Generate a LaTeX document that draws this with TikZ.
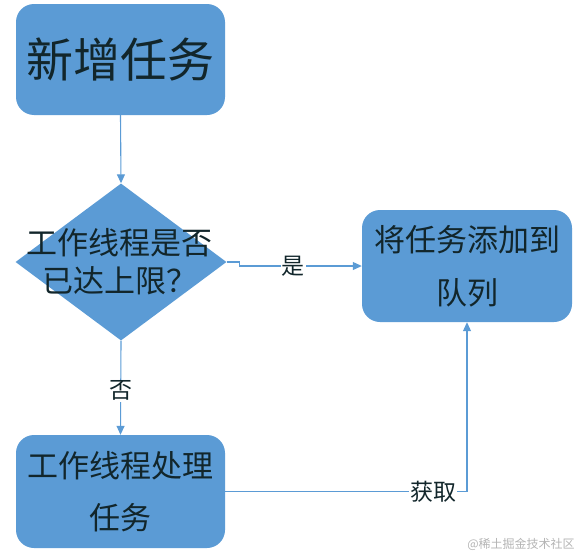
\documentclass[tikz,border=0pt]{standalone}
\usepackage{fontspec}
\newfontfamily\cjk{Noto Sans CJK SC}
\usetikzlibrary{arrows.meta,shapes.geometric}
\definecolor{boxblue}{HTML}{5B9BD5}
\definecolor{linkblue}{HTML}{5B9BD5}
\definecolor{ink}{HTML}{12262B}
\definecolor{markgray}{HTML}{B4B4B4}
\tikzset{
  step box/.style={draw=none,fill=boxblue,rounded corners=18pt,text=ink,
    align=center,inner sep=0pt},
  decision/.style={diamond,draw=none,fill=boxblue,inner sep=0pt,
    minimum width=211pt,minimum height=157pt},
  link/.style={draw=linkblue,line width=1.1pt,
    -{Triangle[length=9pt,width=8pt]}},
  lbl/.style={fill=white,text=ink,inner sep=1pt,font=\cjk\fontsize{23}{23}\selectfont}
}

\begin{document}
\begin{tikzpicture}[x=1pt,y=-1pt,font=\cjk]
  \useasboundingbox (0,0) rectangle (579,557);

  \node[step box,minimum width=209pt,minimum height=111pt,
    font=\cjk\fontsize{47}{47}\selectfont] (add) at (120.5,59.5) {新增任务};

  \node[decision] (check) at (121,262) {};
  \node[text=ink,align=center,font=\cjk\fontsize{31}{38}\selectfont] (checktxt)
    at (120,262) {工作线程是否\\已达上限？};

  \node[step box,minimum width=210pt,minimum height=112pt,
    font=\cjk\fontsize{31}{53}\selectfont] (queue) at (467,266)
    {将任务添加到\\队列};

  \node[step box,minimum width=209pt,minimum height=113pt,
    font=\cjk\fontsize{31}{52}\selectfont] (work) at (120.5,491.5)
    {工作线程处理\\任务};

  \draw[link] (add.south) -- (check.north);
  \draw[link] (check.east) -- ++(13,0) |- (queue.west)
    node[lbl,pos=0.72] {是};
  \draw[link] (check.south) -- (work.north)
    node[lbl,pos=0.53] {否};
  \draw[link] (work.east) -| (queue.south)
    node[lbl,pos=0.43] {获取};

  \node[text=markgray,font=\cjk\fontsize{12}{12}\selectfont] (mark)
    at (521,544) {@稀土掘金技术社区};
\end{tikzpicture}
\end{document}
